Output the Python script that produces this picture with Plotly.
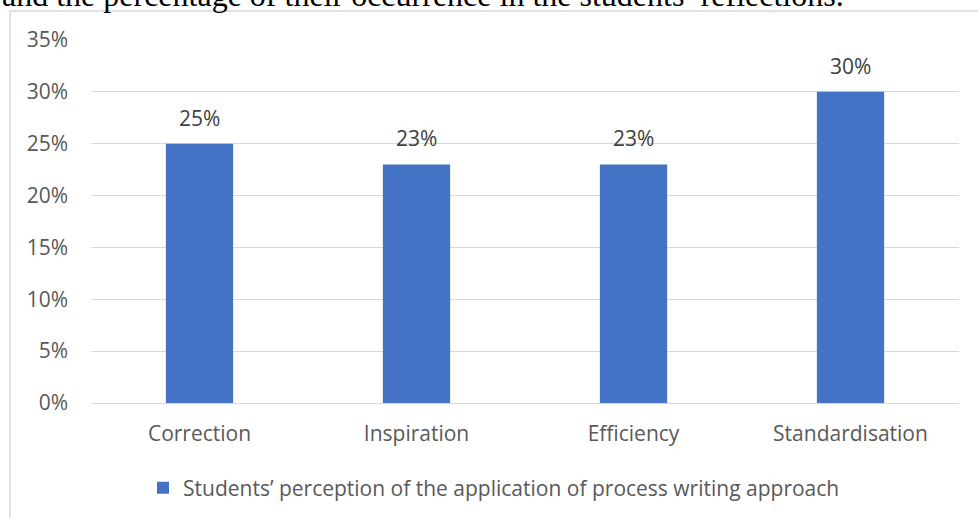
import plotly.graph_objects as go

categories = ["Correction", "Inspiration", "Efficiency", "Standardisation"]
values = [0.25, 0.23, 0.23, 0.30]
series_name = "Students\u2019 perception of the application of process writing approach"
tick_vals = [0, 0.05, 0.10, 0.15, 0.20, 0.25, 0.30, 0.35]
tick_text = ["0%", "5%", "10%", "15%", "20%", "25%", "30%", "35%"]
caption = "and the percentage of their occurrence in the students\u2019 reflections."

W, H = 978, 518
L, R, T, B = 91, 19, 40, 115
pw, ph = W - L - R, H - T - B

def px(x):
    return (x - L) / pw

def py(y):
    return (H - B - y) / ph

FONT = "Open Sans"
FS = 21

fig = go.Figure()
fig.add_trace(go.Bar(
    x=categories, y=values, name=series_name,
    marker=dict(color="#4472c4", line=dict(width=0)),
    width=0.31,
    showlegend=True,
))

for c, v in zip(categories, values):
    fig.add_annotation(x=c, y=v, text=f"{round(v*100)}%", showarrow=False,
                       yanchor="middle", yshift=26,
                       font=dict(family=FONT, size=FS, color="#404040"))

fig.update_layout(
    width=W, height=H,
    margin=dict(l=L, r=R, t=T, b=B, autoexpand=False),
    paper_bgcolor="white", plot_bgcolor="white",
    xaxis=dict(showgrid=False, showline=False, ticks="", ticklabelstandoff=16,
               tickfont=dict(family=FONT, size=FS, color="#595959")),
    yaxis=dict(range=[0, 0.35], tickvals=tick_vals, ticktext=tick_text,
               showgrid=True, gridcolor="#d9d9d9", gridwidth=1,
               zeroline=True, zerolinecolor="#d9d9d9", zerolinewidth=1,
               showline=False, ticks="", ticklabelstandoff=22,
               tickfont=dict(family=FONT, size=FS, color="#595959")),
    legend=dict(orientation="h", x=px(494), xanchor="center", y=py(488), yanchor="middle",
                font=dict(family=FONT, size=FS, color="#595959"),
                itemwidth=30, bgcolor="rgba(0,0,0,0)"),
    showlegend=True,
)

# chart frame
fig.add_shape(type="rect", xref="paper", yref="paper",
              x0=px(10), x1=px(1000), y0=py(540), y1=py(11),
              line=dict(color="#d9d9d9", width=1.5), fillcolor="rgba(0,0,0,0)", layer="below")

fig.add_annotation(text=caption, xref="paper", yref="paper",
                   x=px(0), xanchor="left", y=py(15), yanchor="bottom",
                   showarrow=False, font=dict(family="Liberation Serif", size=32, color="black"))

fig.write_html("out.html")
